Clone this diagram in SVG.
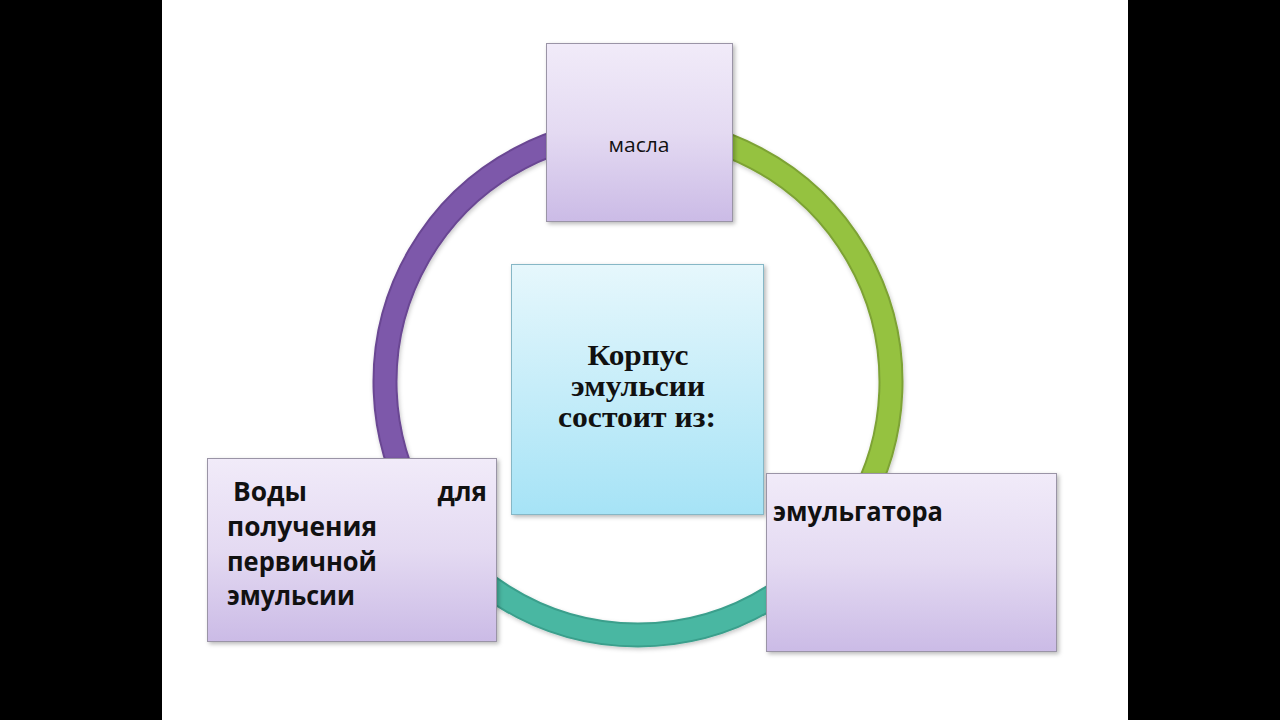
<svg xmlns="http://www.w3.org/2000/svg" width="1280" height="720" viewBox="0 0 1280 720">
<defs>
<linearGradient id="lilac" x1="0" y1="0" x2="0" y2="1">
<stop offset="0" stop-color="#f1ebf9"/>
<stop offset="0.5" stop-color="#e4daf2"/>
<stop offset="1" stop-color="#cbbbe6"/>
</linearGradient>
<linearGradient id="sky" x1="0" y1="0" x2="0" y2="1">
<stop offset="0" stop-color="#e6f7fc"/>
<stop offset="1" stop-color="#a6e3f6"/>
</linearGradient>
<filter id="sh" x="-10%" y="-10%" width="125%" height="125%">
<feDropShadow dx="2" dy="2" stdDeviation="2" flood-color="#000" flood-opacity="0.28"/>
</filter>
<filter id="rsh" x="-10%" y="-10%" width="120%" height="120%">
<feDropShadow dx="1" dy="2" stdDeviation="2" flood-color="#000" flood-opacity="0.22"/>
</filter>
</defs>
<style>
.box{stroke:#9a94a6;stroke-width:1;filter:url(#sh)}
.cbox{stroke:#86b7c6;stroke-width:1;filter:url(#sh)}
.ring{fill:none}
.sans{font-family:"Open Sans","Noto Sans","Liberation Sans",sans-serif;fill:#111}
.b{font-weight:bold;font-size:26px}
.serif{font-family:"Liberation Serif","Times New Roman",serif;font-weight:bold;font-size:29px;fill:#111;text-anchor:middle}
</style>
<rect x="0" y="0" width="1280" height="720" fill="#000"/>
<rect x="162" y="0" width="966" height="720" fill="#fff"/>

<g id="connectors" filter="url(#rsh)">
<g id="arc-purple">
<path class="ring" d="M 418.9 508.5 A 253 253 0 0 1 638 129" stroke="#6a4793" stroke-width="25"/>
<path class="ring" d="M 418.9 508.5 A 253 253 0 0 1 638 129" stroke="#7d58aa" stroke-width="21"/>
</g>
<g id="arc-green">
<path class="ring" d="M 638 129 A 253 253 0 0 1 857.1 508.5" stroke="#7da234" stroke-width="25"/>
<path class="ring" d="M 638 129 A 253 253 0 0 1 857.1 508.5" stroke="#95c240" stroke-width="21"/>
</g>
<g id="arc-teal">
<path class="ring" d="M 857.1 508.5 A 253 253 0 0 1 418.9 508.5" stroke="#3a9f8c" stroke-width="25"/>
<path class="ring" d="M 857.1 508.5 A 253 253 0 0 1 418.9 508.5" stroke="#4ab7a2" stroke-width="21"/>
</g>
</g>

<g id="node-masla">
<rect class="box" x="546.5" y="43.5" width="186" height="178" fill="url(#lilac)"/>
<text class="sans" x="639" y="152" font-size="20" text-anchor="middle" textLength="61" lengthAdjust="spacingAndGlyphs">масла</text>
</g>

<g id="node-center">
<rect class="cbox" x="511.5" y="264.5" width="252" height="250" fill="url(#sky)"/>
<text class="serif" x="638" y="365" textLength="101" lengthAdjust="spacingAndGlyphs">Корпус</text>
<text class="serif" x="638" y="396" textLength="134" lengthAdjust="spacingAndGlyphs">эмульсии</text>
<text class="serif" x="637" y="427" textLength="158" lengthAdjust="spacingAndGlyphs">состоит из:</text>
</g>

<g id="node-vody">
<rect class="box" x="207.5" y="458.5" width="289" height="183" fill="url(#lilac)"/>
<text class="sans b" x="233" y="501" textLength="74" lengthAdjust="spacingAndGlyphs">Воды</text>
<text class="sans b" x="487" y="501" text-anchor="end">для</text>
<text class="sans b" x="227" y="536" textLength="150" lengthAdjust="spacingAndGlyphs">получения</text>
<text class="sans b" x="227" y="571" textLength="150" lengthAdjust="spacingAndGlyphs">первичной</text>
<text class="sans b" x="227" y="605" textLength="128" lengthAdjust="spacingAndGlyphs">эмульсии</text>
</g>

<g id="node-emulgator">
<rect class="box" x="766.5" y="473.5" width="290" height="178" fill="url(#lilac)"/>
<text class="sans b" x="773" y="521" textLength="170" lengthAdjust="spacingAndGlyphs">эмульгатора</text>
</g>
</svg>
